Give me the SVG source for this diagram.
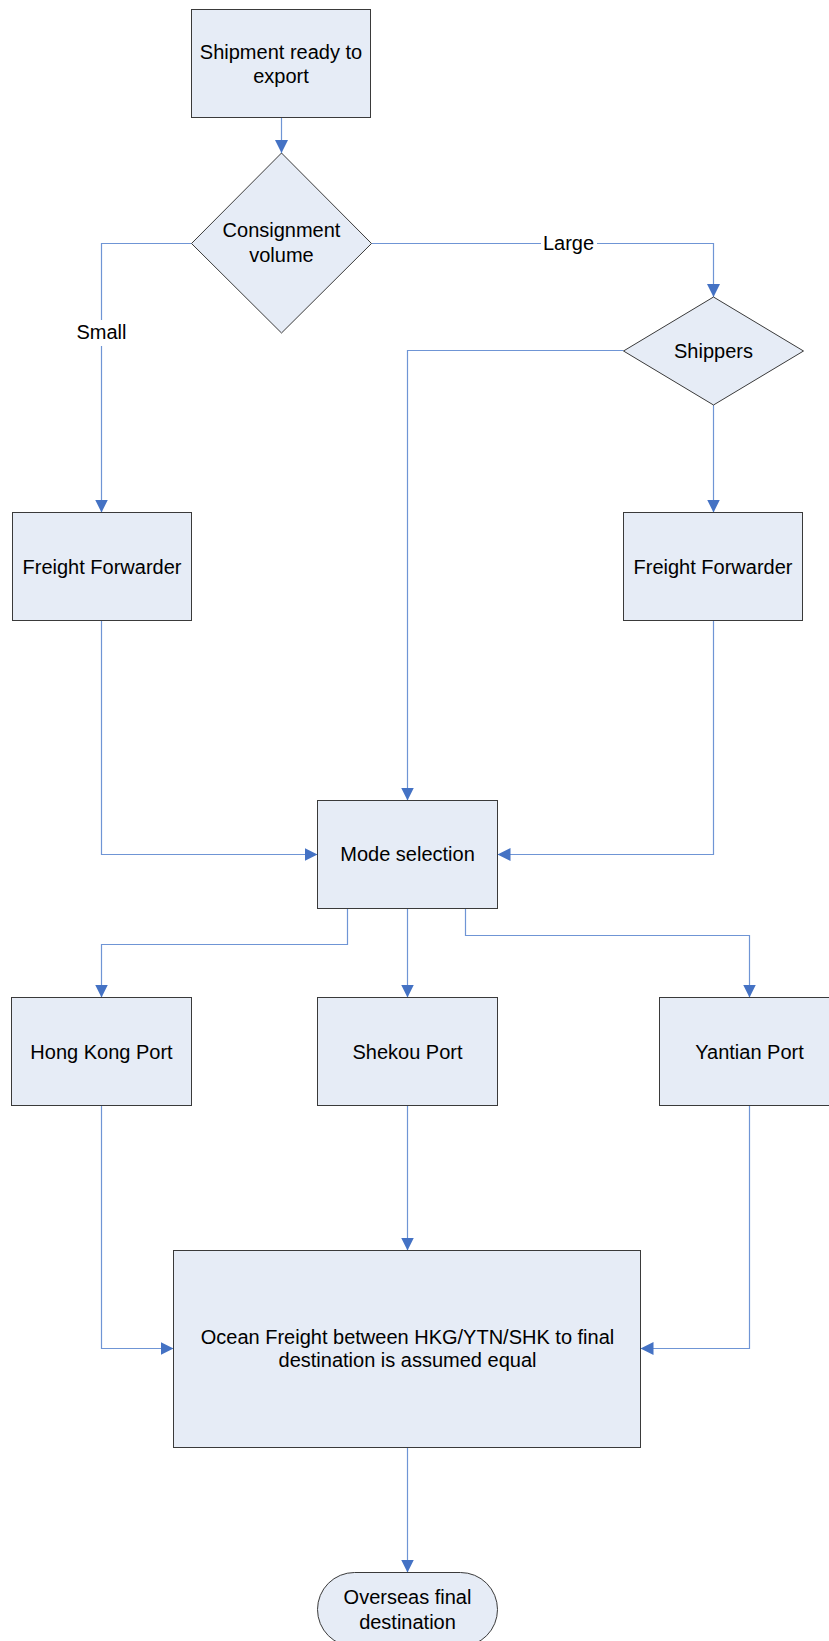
<svg xmlns="http://www.w3.org/2000/svg" width="829" height="1641" viewBox="0 0 829 1641">
<style>
.node{fill:#E6ECF6;stroke:#3a3a3a;stroke-width:1}
.t{font-family:"Liberation Sans",Arial,sans-serif;font-size:20px;fill:#000;text-anchor:middle}
.c{fill:none;stroke:#6F95D5;stroke-width:1.2}
</style>
<defs>
<marker id="arr" markerUnits="userSpaceOnUse" markerWidth="14" markerHeight="14" refX="13" refY="6.5" orient="auto">
<path d="M0,0 L13,6.5 L0,13 Z" fill="#4472C4"/>
</marker>
</defs>
<rect width="829" height="1641" fill="#fff"/>
<g id="connectors">
<path class="c" d="M281.5 117.5 V153" marker-end="url(#arr)"/>
<path class="c" d="M371.5 243.5 H713.5 V297" marker-end="url(#arr)"/>
<path class="c" d="M191.5 243.5 H101.5 V512.5" marker-end="url(#arr)"/>
<path class="c" d="M623.5 350.5 H407.5 V800.5" marker-end="url(#arr)"/>
<path class="c" d="M713.5 405 V512.5" marker-end="url(#arr)"/>
<path class="c" d="M101.5 620.5 V854.5 H317.5" marker-end="url(#arr)"/>
<path class="c" d="M713.5 620.5 V854.5 H497.5" marker-end="url(#arr)"/>
<path class="c" d="M347.5 908.5 V944.5 H101.5 V997.5" marker-end="url(#arr)"/>
<path class="c" d="M407.5 908.5 V997.5" marker-end="url(#arr)"/>
<path class="c" d="M465.5 908.5 V935.5 H749.5 V997.5" marker-end="url(#arr)"/>
<path class="c" d="M101.5 1105.5 V1348.5 H173.5" marker-end="url(#arr)"/>
<path class="c" d="M407.5 1105.5 V1250.5" marker-end="url(#arr)"/>
<path class="c" d="M749.5 1105.5 V1348.5 H640.5" marker-end="url(#arr)"/>
<path class="c" d="M407.5 1447.5 V1572.5" marker-end="url(#arr)"/>
<rect x="541" y="232" width="56" height="22" fill="#fff"/>
<text class="t" x="568.5" y="250">Large</text>
<rect x="74" y="320" width="56" height="26" fill="#fff"/>
<text class="t" x="101.5" y="338.5">Small</text>
</g>
<g id="shipment">
<rect class="node" x="191.5" y="9.5" width="179" height="108"/>
<text class="t" x="281" y="58.5">Shipment ready to</text>
<text class="t" x="281" y="83">export</text>
</g>
<g id="consignment">
<polygon class="node" points="281.5,153 371.5,243.5 281.5,333 191.5,243.5"/>
<text class="t" x="281.5" y="237">Consignment</text>
<text class="t" x="281.5" y="262">volume</text>
</g>
<g id="shippers">
<polygon class="node" points="713.5,297 803.5,351 713.5,405 623.5,351"/>
<text class="t" x="713.5" y="357.5">Shippers</text>
</g>
<g id="ff-left">
<rect class="node" x="12.5" y="512.5" width="179" height="108"/>
<text class="t" x="102" y="573.5">Freight Forwarder</text>
</g>
<g id="ff-right">
<rect class="node" x="623.5" y="512.5" width="179" height="108"/>
<text class="t" x="713" y="573.5">Freight Forwarder</text>
</g>
<g id="mode">
<rect class="node" x="317.5" y="800.5" width="180" height="108"/>
<text class="t" x="407.5" y="861">Mode selection</text>
</g>
<g id="hongkong">
<rect class="node" x="11.5" y="997.5" width="180" height="108"/>
<text class="t" x="101.5" y="1058.5">Hong Kong Port</text>
</g>
<g id="shekou">
<rect class="node" x="317.5" y="997.5" width="180" height="108"/>
<text class="t" x="407.5" y="1058.5">Shekou Port</text>
</g>
<g id="yantian">
<rect class="node" x="659.5" y="997.5" width="180" height="108"/>
<text class="t" x="749.5" y="1058.5">Yantian Port</text>
</g>
<g id="ocean">
<rect class="node" x="173.5" y="1250.5" width="467" height="197"/>
<text class="t" x="407.5" y="1343.5">Ocean Freight between HKG/YTN/SHK to final</text>
<text class="t" x="407.5" y="1367">destination is assumed equal</text>
</g>
<g id="overseas">
<rect class="node" x="317.5" y="1572.5" width="180" height="74" rx="37" ry="37"/>
<text class="t" x="407.5" y="1603.5">Overseas final</text>
<text class="t" x="407.5" y="1628.5">destination</text>
</g>
</svg>
